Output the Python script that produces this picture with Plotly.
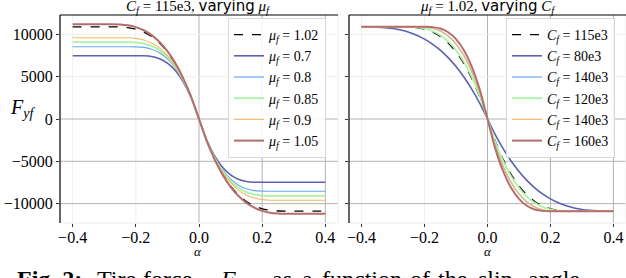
import plotly.graph_objects as go

# ---------------- data ----------------
ALPHA = [-0.4, -0.375, -0.35, -0.325, -0.3, -0.275, -0.25, -0.225, -0.2, -0.175,
         -0.15, -0.125, -0.1, -0.075, -0.05, -0.025, 0.0, 0.025, 0.05, 0.075,
         0.1, 0.125, 0.15, 0.175, 0.2, 0.225, 0.25, 0.275, 0.3, 0.325, 0.35,
         0.375, 0.4]

# Left panel: C_f = 115e3, varying mu_f
F_MU_102 = [10890, 10890, 10890, 10890, 10890, 10890, 10871, 10792, 10607, 10274,
            9745, 8978, 7927, 6548, 4797, 2630, 0, -2630, -4797, -6548,
            -7927, -8978, -9745, -10274, -10607, -10792, -10871, -10890, -10890, -10890, -10890,
            -10890, -10890]
F_MU_070 = [7480, 7480, 7480, 7480, 7480, 7480, 7480, 7480, 7480, 7472,
            7387, 7132, 6613, 5735, 4403, 2523, 0, -2523, -4403, -5735,
            -6613, -7132, -7387, -7472, -7480, -7480, -7480, -7480, -7480, -7480, -7480,
            -7480, -7480]
F_MU_080 = [8540, 8540, 8540, 8540, 8540, 8540, 8540, 8540, 8530, 8456,
            8242, 7818, 7110, 6047, 4556, 2565, 0, -2565, -4556, -6047,
            -7110, -7818, -8242, -8456, -8530, -8540, -8540, -8540, -8540, -8540, -8540,
            -8540, -8540]
F_MU_085 = [9080, 9080, 9080, 9080, 9080, 9080, 9080, 9078, 9047, 8919,
            8632, 8123, 7328, 6182, 4622, 2582, 0, -2582, -4622, -6182,
            -7328, -8123, -8632, -8919, -9047, -9078, -9080, -9080, -9080, -9080, -9080,
            -9080, -9080]
F_MU_090 = [9610, 9610, 9610, 9610, 9610, 9610, 9610, 9599, 9530, 9346,
            8988, 8399, 7523, 6302, 4679, 2598, 0, -2598, -4679, -6302,
            -7523, -8399, -8988, -9346, -9530, -9599, -9610, -9610, -9610, -9610, -9610,
            -9610, -9610]
F_MU_105 = [11210, 11210, 11210, 11210, 11210, 11209, 11177, 11073, 10857, 10485,
            9914, 9106, 8016, 6602, 4823, 2637, 0, -2637, -4823, -6602,
            -8016, -9106, -9914, -10485, -10857, -11073, -11177, -11209, -11210, -11210, -11210,
            -11210, -11210]

# Right panel: mu_f = 1.02, varying C_f
F_C_115 = F_MU_102
F_C_080 = [10890, 10884, 10858, 10797, 10686, 10510, 10255, 9904, 9443, 8858,
           8132, 7251, 6201, 4966, 3530, 1881, 0, -1881, -3530, -4966,
           -6201, -7251, -8132, -8858, -9443, -9904, -10255, -10510, -10686, -10797, -10858,
           -10884, -10890]
F_C_140 = [10890, 10890, 10890, 10890, 10890, 10890, 10890, 10890, 10858, 10720,
           10394, 9800, 8858, 7487, 5607, 3139, 0, -3139, -5607, -7487,
           -8858, -9800, -10394, -10720, -10858, -10890, -10890, -10890, -10890, -10890, -10890,
           -10890, -10890]
F_C_120 = [10890, 10890, 10890, 10890, 10890, 10890, 10884, 10833, 10686, 10394,
           9904, 9167, 8132, 6748, 4966, 2733, 0, -2733, -4966, -6748,
           -8132, -9167, -9904, -10394, -10686, -10833, -10884, -10890, -10890, -10890, -10890,
           -10890, -10890]
F_C_160 = [10890, 10890, 10890, 10890, 10890, 10890, 10890, 10890, 10890, 10858,
           10686, 10255, 9443, 8132, 6201, 3530, 0, -3530, -6201, -8132,
           -9443, -10255, -10686, -10858, -10890, -10890, -10890, -10890, -10890, -10890, -10890,
           -10890, -10890]

LEFT_SERIES = [F_MU_102, F_MU_070, F_MU_080, F_MU_085, F_MU_090, F_MU_105]
LEFT_LABELS = ["<i>μ<sub>f</sub></i> = 1.02", "<i>μ<sub>f</sub></i> = 0.7",
               "<i>μ<sub>f</sub></i> = 0.8", "<i>μ<sub>f</sub></i> = 0.85",
               "<i>μ<sub>f</sub></i> = 0.9", "<i>μ<sub>f</sub></i> = 1.05"]
RIGHT_SERIES = [F_C_115, F_C_080, F_C_140, F_C_120, F_C_140, F_C_160]
RIGHT_LABELS = ["<i>C<sub>f</sub></i> = 115e3", "<i>C<sub>f</sub></i> = 80e3",
                "<i>C<sub>f</sub></i> = 140e3", "<i>C<sub>f</sub></i> = 120e3",
                "<i>C<sub>f</sub></i> = 140e3", "<i>C<sub>f</sub></i> = 160e3"]

X_TICKS = [-0.4, -0.2, 0.0, 0.2, 0.4]
X_TICK_TEXT = ["−0.4", "−0.2", "0.0", "0.2", "0.4"]
Y_TICKS = [-10000, -5000, 0, 5000, 10000]
Y_TICK_TEXT = ["−10000", "−5000", "0", "5000", "10000"]

CAPTION_WORDS = ["<b>Fig. 2:</b>", "Tire", "force", "<i>F<sub>yf</sub></i>", "as", "a",
                 "function", "of", "the", "slip", "angle"]

# ---------------- styles / positions ----------------
COLORS = ["#000000", "#5b60b2", "#66aaec", "#a9f3a4", "#f8b866", "#b56d6d"]
WIDTHS = [1.3, 1.6, 1.2, 1.8, 1.1, 2.0]
DASHES = ["dash", "solid", "solid", "solid", "solid", "solid"]
CAPTION_X = [15, 95, 141, 218, 270, 300, 320, 408, 436, 476, 526]
SERIF = "Liberation Serif"

fig = go.Figure()
for ys, lab, c, w, d in zip(LEFT_SERIES, LEFT_LABELS, COLORS, WIDTHS, DASHES):
    fig.add_trace(go.Scatter(x=ALPHA, y=ys, name=lab, mode="lines",
                             line=dict(color=c, width=w, dash=d, shape="spline", smoothing=0.6),
                             xaxis="x", yaxis="y", legend="legend"))
for ys, lab, c, w, d in zip(RIGHT_SERIES, RIGHT_LABELS, COLORS, WIDTHS, DASHES):
    fig.add_trace(go.Scatter(x=ALPHA, y=ys, name=lab, mode="lines",
                             line=dict(color=c, width=w, dash=d, shape="spline", smoothing=0.6),
                             xaxis="x2", yaxis="y2", legend="legend2"))

W, H = 626, 278
ML, MR, MT, MB = 60, 0, 15, 55
PW, PH = W - ML - MR, H - MT - MB


def px(xp):
    return (xp - ML) / PW


def py(yp):
    return (H - MB - yp) / PH


axis_common = dict(showgrid=False, zeroline=False, ticks="outside", ticklen=3,
                   tickwidth=1, tickcolor="#333333", showline=False,
                   tickfont=dict(family=SERIF, size=16, color="black"))
fig.update_layout(
    width=W, height=H, margin=dict(l=ML, r=MR, t=MT, b=MB),
    paper_bgcolor="white", plot_bgcolor="white",
    xaxis=dict(domain=[0, px(338)], range=[-0.44, 0.44], tickvals=X_TICKS,
               ticktext=X_TICK_TEXT, anchor="y", ticklabelstandoff=-3, **axis_common),
    yaxis=dict(domain=[0, 1], range=[-12290, 12290], tickvals=Y_TICKS,
               ticktext=Y_TICK_TEXT, anchor="x", **axis_common),
    xaxis2=dict(domain=[px(349), 1], range=[-0.44, 0.44], tickvals=X_TICKS,
                ticktext=X_TICK_TEXT, anchor="y2", ticklabelstandoff=-3, **axis_common),
    yaxis2=dict(domain=[0, 1], range=[-12290, 12290], tickvals=Y_TICKS,
                showticklabels=False, anchor="x2", matches="y", **axis_common),
    legend=dict(x=px(228), y=py(18), xanchor="left", yanchor="top",
                bgcolor="rgba(255,255,255,0.85)", bordercolor="#d8d8d8", borderwidth=1,
                font=dict(family=SERIF, size=14, color="black"), tracegroupgap=0),
    legend2=dict(x=px(506), y=py(18), xanchor="left", yanchor="top",
                 bgcolor="rgba(255,255,255,0.85)", bordercolor="#d8d8d8", borderwidth=1,
                 font=dict(family=SERIF, size=14, color="black"), tracegroupgap=0),
    showlegend=True,
)

# grid lines & spines
GRID_DARK = "#b3b3b3"
GRID_FAINT = "#efefef"
X_DARK = [0.0, 0.2, 0.4]
Y_DARK = [-10000, -5000, 0]
shapes = []
for xa, ya in (("x", "y"), ("x2", "y2")):
    for xv in X_TICKS:
        shapes.append(dict(type="line", xref=xa, yref=ya + " domain", x0=xv, x1=xv, y0=0, y1=1,
                           line=dict(color=GRID_DARK if xv in X_DARK else GRID_FAINT, width=1),
                           layer="below"))
    for yv in Y_TICKS:
        shapes.append(dict(type="line", xref=xa + " domain", yref=ya, x0=0, x1=1, y0=yv, y1=yv,
                           line=dict(color=GRID_DARK if yv in Y_DARK else GRID_FAINT, width=1),
                           layer="below"))
    shapes.append(dict(type="line", xref=xa + " domain", yref=ya + " domain", x0=0, x1=1, y0=0, y1=0,
                       line=dict(color="#ececec", width=1), layer="below"))
    shapes.append(dict(type="line", xref=xa + " domain", yref=ya + " domain", x0=1, x1=1, y0=0, y1=1,
                       line=dict(color="#ececec", width=1), layer="below"))
    shapes.append(dict(type="line", xref=xa + " domain", yref=ya + " domain", x0=0, x1=0, y0=0, y1=1,
                       line=dict(color="black", width=1.2), layer="above"))
    shapes.append(dict(type="line", xref=xa + " domain", yref=ya + " domain", x0=0, x1=1, y0=1, y1=1,
                       line=dict(color="black", width=1.2), layer="above"))
fig.update_layout(shapes=shapes)

ann = []
ann.append(dict(text="<i>C<sub>f</sub></i> = 115e3, <span style='font-family:DejaVu Sans'>varying</span> <i>μ<sub>f</sub></i>",
                xref="paper", yref="paper", x=px(198), y=py(7), xanchor="center", yanchor="middle",
                showarrow=False, font=dict(family=SERIF, size=15, color="black")))
ann.append(dict(text="<i>μ<sub>f</sub></i> = 1.02, <span style='font-family:DejaVu Sans'>varying</span> <i>C<sub>f</sub></i>",
                xref="paper", yref="paper", x=px(488), y=py(7), xanchor="center", yanchor="middle",
                showarrow=False, font=dict(family=SERIF, size=15, color="black")))
ann.append(dict(text="<i>F<sub>yf</sub></i>", xref="paper", yref="paper", x=px(22), y=py(108),
                xanchor="center", yanchor="middle", showarrow=False,
                font=dict(family=SERIF, size=20, color="black")))
for cx in (198, 488):
    ann.append(dict(text="<i>α</i>", xref="paper", yref="paper", x=px(cx), y=py(251),
                    xanchor="center", yanchor="middle", showarrow=False,
                    font=dict(family=SERIF, size=13, color="black")))
for t, xp in zip(CAPTION_WORDS, CAPTION_X):
    ann.append(dict(text=t, xref="paper", yref="paper", x=px(xp), y=py(264),
                    xanchor="left", yanchor="top", showarrow=False,
                    font=dict(family=SERIF, size=24, color="black")))
fig.update_layout(annotations=ann)

fig.write_html("out.html", config={"displayModeBar": False},
               post_script="document.body.style.margin='0';")
